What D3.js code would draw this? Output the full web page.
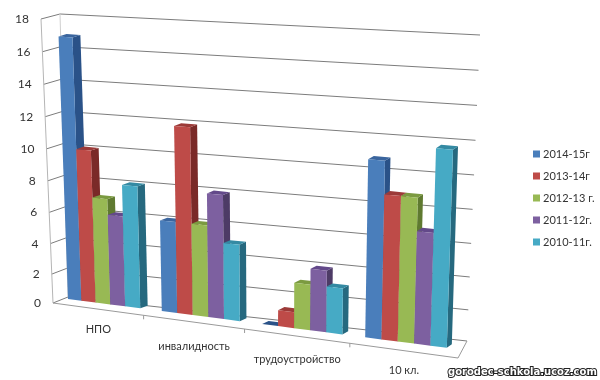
<!DOCTYPE html>
<html>
<head>
<meta charset="utf-8">
<script src="https://cdn.jsdelivr.net/npm/d3@7"></script>
<style>
  html, body { margin: 0; background: #fff; }
  svg { display: block; filter: blur(0.35px); }
  text { font-family: Lato, "Open Sans", sans-serif; font-size: 11px; fill: #333; }
</style>
</head>
<body>
<div class="chartDiv"></div>
<script>
// Data
var categories = ['НПО', 'инвалидность', 'трудоустройство', '10 кл.'];
var seriesNames = ['2014-15г', '2013-14г', '2012-13 г.', '2011-12г.', '2010-11г.'];
var values2014 = [17, 6, 0, 11];
var values2013 = [10, 12, 1.1, 9];
var values2012 = [7, 6, 3, 9];
var values2011 = [6, 8, 4, 7];
var values2010 = [8, 5, 3, 12];
var allValues = [values2014, values2013, values2012, values2011, values2010];
var valueTicks = d3.range(0, 19, 2);

var frontColors = ['#4a7ebb', '#be4b48', '#98b954', '#7d60a0', '#46aac5'];
var sideColors = ['#2a5288', '#7a2a28', '#5f7a30', '#4d3b66', '#26697f'];
var topColors = ['#3a659e', '#9c3a38', '#7b9a40', '#63498a', '#348aa3'];

// Variables
var width = 600;
var height = 380;
var svgObj = d3.select('.chartDiv').append('svg')
    .attr('width', width)
    .attr('height', height);

// Perspective scales, fitted by eye to the reference
var riseScale = d3.scalePow().exponent(1.04).domain([0, 18]).range([0, 1]);
var axisX = d3.scalePow().exponent(1.08).domain([0, 4]).range([53, 458]);
var axisY = d3.scaleLinear().domain([53, 458]).range([303, 358]);
var barX = d3.scalePow().exponent(1.05).domain([0, 4]).range([68, 470]);
var barY = d3.scaleLinear().domain([68, 448]).range([299, 348]);
var fullHeight = d3.scaleLinear().domain([60, 460]).range([278, 303]);
var lean = d3.scaleLinear().domain([68, 440]).range([-0.036, 0.03]);
var depthX = d3.scaleLinear().domain([68, 448]).range([8, 5]);
var depthY = d3.scaleLinear().domain([68, 448]).range([-2.5, -3.5]);
var groupWidth = 0.78;
var catLabelShift = [24, 28, 27, 23];

// Wall edges, as value -> position
var edge = function (x0, y0, x1, y1) {
  return function (v) {
    var t = riseScale(v);
    return [x0 + (x1 - x0) * t, y0 + (y1 - y0) * t];
  };
};
var frontLeft = edge(53, 303, 41, 19);
var backLeft = edge(68, 297, 60, 14);
var backRight = edge(467, 341, 480, 35);
var frontRight = [458, 358];

var line = d3.line();

function drawFrame() {
  var frame = svgObj.append('g').attr('fill', 'none');

  frame.selectAll('.grid')
    .data(valueTicks)
    .enter().append('path')
    .attr('class', 'grid')
    .attr('d', d => line([frontLeft(d), backLeft(d), backRight(d)]))
    .attr('stroke', '#7c7c7c');

  frame.append('path')
    .attr('d', line([frontLeft(0), frontLeft(18)]))
    .attr('stroke', '#b5b5b5');
  frame.append('path')
    .attr('d', line([backLeft(0), backLeft(18)]))
    .attr('stroke', '#cfcfcf');
  frame.append('path')
    .attr('d', line([frontLeft(0), frontRight, backRight(0)]))
    .attr('stroke', '#9a9a9a');

  // category ticks on the floor edge
  frame.selectAll('.catTick')
    .data(d3.range(1, 4))
    .enter().append('path')
    .attr('class', 'catTick')
    .attr('d', d => {
      var x = axisX(d);
      return line([[x, axisY(x)], [x, axisY(x) + 4]]);
    })
    .attr('stroke', '#9a9a9a');
}

// One point on a bar: position along the group, value, and whether on the back face
function project(u, value, back) {
  var x = barX(u);
  var y = barY(x);
  var h = fullHeight(x) * riseScale(value);
  var px = x + lean(x) * h;
  var py = y - h;
  if (back) {
    px += depthX(x);
    py += depthY(x);
  }
  return [px, py];
}

function drawBars() {
  var bars = [];
  categories.forEach((c, i) => {
    seriesNames.forEach((s, j) => {
      bars.push({
        u0: i + groupWidth * j / 5,
        u1: i + groupWidth * (j + 1) / 5,
        value: allValues[j][i],
        series: j
      });
    });
  });

  var barG = svgObj.append('g').selectAll('g')
    .data(bars)
    .enter().append('g')
    .attr('class', 'bar');

  barG.append('path')
    .attr('d', d => line([
      project(d.u1, 0, false), project(d.u1, 0, true),
      project(d.u1, d.value, true), project(d.u1, d.value, false)
    ]) + 'Z')
    .attr('fill', d => sideColors[d.series]);

  barG.append('path')
    .attr('d', d => line([
      project(d.u0, d.value, false), project(d.u0, d.value, true),
      project(d.u1, d.value, true), project(d.u1, d.value, false)
    ]) + 'Z')
    .attr('fill', d => d.value === 0 ? sideColors[d.series] : topColors[d.series]);

  barG.append('path')
    .attr('d', d => line([
      project(d.u0, 0, false), project(d.u0, d.value, false),
      project(d.u1, d.value, false), project(d.u1, 0, false)
    ]) + 'Z')
    .attr('fill', d => frontColors[d.series]);
}

function drawLabels() {
  svgObj.selectAll('.valueLabel')
    .data(valueTicks)
    .enter().append('text')
    .attr('class', 'valueLabel')
    .attr('x', d => frontLeft(d)[0] - 12)
    .attr('y', d => frontLeft(d)[1] + 4)
    .attr('text-anchor', 'end')
    .style('font-size', '12px')
    .text(d => d);

  svgObj.selectAll('.catLabel')
    .data(categories)
    .enter().append('text')
    .attr('class', 'catLabel')
    .attr('x', (d, i) => (axisX(i) + axisX(i + 1)) / 2)
    .attr('y', (d, i) => axisY((axisX(i) + axisX(i + 1)) / 2) + catLabelShift[i])
    .attr('text-anchor', 'middle')
    .text(d => d);
}

function drawLegend() {
  var legendY = d3.scalePoint().domain(seriesNames).range([154, 242]);
  var item = svgObj.selectAll('.legendItem')
    .data(seriesNames)
    .enter().append('g')
    .attr('class', 'legendItem')
    .attr('transform', d => 'translate(533,' + legendY(d) + ')');
  item.append('rect')
    .attr('y', -3.5)
    .attr('width', 7)
    .attr('height', 7)
    .attr('fill', (d, i) => frontColors[i]);
  item.append('text')
    .attr('x', 10)
    .attr('y', 4)
    .text(d => d);
}

function drawWatermark() {
  svgObj.append('text')
    .attr('x', 448)
    .attr('y', 375)
    .style('font-family', 'DejaVu Sans')
    .style('font-weight', 'bold')
    .style('font-size', '10px')
    .style('fill', '#fff')
    .style('stroke', '#222')
    .style('stroke-width', '2px')
    .style('paint-order', 'stroke')
    .text('gorodec-schkola.ucoz.com');
}

drawFrame();
drawBars();
drawLabels();
drawLegend();
drawWatermark();
</script>
</body>
</html>
